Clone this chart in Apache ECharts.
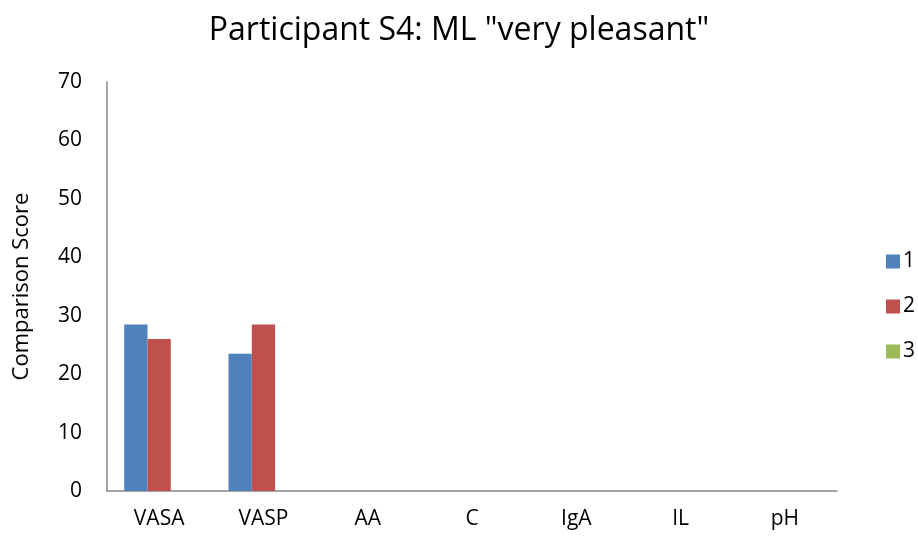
<!DOCTYPE html>
<html>
<head>
<meta charset="utf-8">
<script src="https://cdn.jsdelivr.net/npm/echarts@6/dist/echarts.min.js"></script>
<style>
    html, body { margin: 0; padding: 0; background: #fff; }
    #chart { width: 918px; height: 540px; }
</style>
</head>
<body>
<div id="chart"></div>
<script>
    // data
    var categories = ['VASA', 'VASP', 'AA', 'C', 'IgA', 'IL', 'pH'];
    var series1 = [28.5, 23.5, 0, 0, 0, 0, 0];
    var series2 = [26, 28.5, 0, 0, 0, 0, 0];
    var series3 = [0, 0, 0, 0, 0, 0, 0];
    var seriesNames = ['1', '2', '3'];

    var font = '"Open Sans", "Liberation Sans", sans-serif';
    var chart = echarts.init(document.getElementById('chart'));

    chart.setOption({
        animation: false,
        title: {
            text: 'Participant S4: ML "very pleasant"',
            left: 'center',
            top: 10,
            textStyle: { fontFamily: font, fontSize: 32, fontWeight: 'normal', color: '#000' }
        },
        legend: {
            orient: 'vertical',
            left: 881,
            top: 246,
            itemWidth: 14,
            itemHeight: 14,
            itemGap: 24,
            icon: 'rect',
            data: seriesNames,
            textStyle: { fontFamily: font, fontSize: 21, color: '#000', padding: [0, 0, 0, -2] }
        },
        grid: { left: 107, right: 81, top: 82, bottom: 49 },
        xAxis: {
            type: 'category',
            data: categories,
            axisLine: { lineStyle: { color: '#868686', width: 1.5 } },
            axisTick: { show: false },
            axisLabel: { fontFamily: font, fontSize: 21, color: '#000', margin: 18 }
        },
        yAxis: {
            type: 'value',
            min: 0,
            max: 70,
            interval: 10,
            name: 'Comparison Score',
            nameLocation: 'middle',
            nameGap: 74,
            nameTextStyle: { fontFamily: font, fontSize: 22, color: '#000' },
            axisLine: { show: true, lineStyle: { color: '#868686', width: 1.5 } },
            axisTick: { show: false },
            splitLine: { show: false },
            axisLabel: { fontFamily: font, fontSize: 21, color: '#000', margin: 25 }
        },
        series: [
            { name: seriesNames[0], type: 'bar', data: series1, barGap: '0%', barCategoryGap: '33%',
              itemStyle: { color: '#4F81BD' } },
            { name: seriesNames[1], type: 'bar', data: series2, barGap: '0%', barCategoryGap: '33%',
              itemStyle: { color: '#C0504D' } },
            { name: seriesNames[2], type: 'bar', data: series3, barGap: '0%', barCategoryGap: '33%',
              itemStyle: { color: '#9BBB59' } }
        ]
    });
</script>
</body>
</html>
